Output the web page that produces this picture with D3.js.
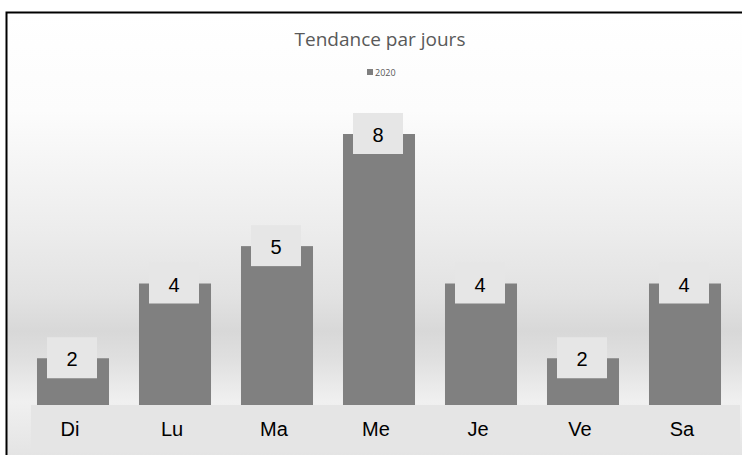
<!DOCTYPE html>
<html>
<head>
<meta charset="utf-8">
<script src="https://cdn.jsdelivr.net/npm/d3@7"></script>
<style>
  body { margin: 0; background: #fff; }
  svg { display: block; }
</style>
</head>
<body>
<svg width="742" height="455"></svg>
<script>
var days = ["Di", "Lu", "Ma", "Me", "Je", "Ve", "Sa"];
var values2020 = [2, 4, 5, 8, 4, 2, 4];
var seriesName = "2020";
var chartTitle = "Tendance par jours";

var svg = d3.select("svg"),
    width = +svg.attr("width"),
    height = +svg.attr("height");

// background gradient (white at top, grey floor)
var defs = svg.append("defs");
var grad = defs.append("linearGradient")
               .attr("id", "bg")
               .attr("x1", 0).attr("y1", 0).attr("x2", 0).attr("y2", 1);
grad.append("stop").attr("offset", "0%").attr("stop-color", "#ffffff");
grad.append("stop").attr("offset", "22%").attr("stop-color", "#fcfcfc");
grad.append("stop").attr("offset", "48%").attr("stop-color", "#ededed");
grad.append("stop").attr("offset", "64%").attr("stop-color", "#e2e2e2");
grad.append("stop").attr("offset", "72%").attr("stop-color", "#d8d8d8");
grad.append("stop").attr("offset", "78%").attr("stop-color", "#dfdfdf");
grad.append("stop").attr("offset", "88%").attr("stop-color", "#f0f0f0");
grad.append("stop").attr("offset", "100%").attr("stop-color", "#e4e4e4");

svg.append("rect")
   .attr("x", 7).attr("y", 13)
   .attr("width", width - 7).attr("height", height - 13)
   .attr("fill", "url(#bg)");

// frame (only top and left visible)
svg.append("path")
   .attr("d", "M6.5," + height + "V12.5H" + width)
   .attr("fill", "none")
   .attr("stroke", "#000")
   .attr("stroke-width", 2);

var x = d3.scaleBand()
          .domain(days)
          .range([22, 736])
          .paddingInner(0.294)
          .paddingOuter(0.147);

var y = d3.scaleLinear()
          .domain([0, 8])
          .range([433, 134]);

svg.append("text")
   .attr("x", 380).attr("y", 46)
   .attr("text-anchor", "middle")
   .attr("font-family", "'Open Sans', 'Noto Sans', sans-serif")
   .attr("font-size", 19)
   .attr("fill", "#595959")
   .text(chartTitle);

// legend
svg.append("rect")
   .attr("x", 367).attr("y", 69)
   .attr("width", 6).attr("height", 6)
   .attr("fill", "#7f7f7f");
svg.append("text")
   .attr("x", 375).attr("y", 75.5)
   .attr("font-family", "'Open Sans', 'Noto Sans', sans-serif")
   .attr("font-size", 9)
   .attr("fill", "#595959")
   .text(seriesName);

var bars = svg.append("g").selectAll("rect")
              .data(values2020)
              .enter().append("rect")
              .attr("x", function(d, i) { return x(days[i]); })
              .attr("y", function(d) { return y(d); })
              .attr("width", x.bandwidth())
              .attr("height", function(d) { return y(0) - y(d); })
              .attr("fill", "#808080");

// category band across the bottom
svg.append("rect")
   .attr("x", 31).attr("y", 405)
   .attr("width", 709).attr("height", 47)
   .attr("fill", "#e5e5e5");

var xAxis = svg.append("g")
               .attr("transform", "translate(0,405)")
               .call(d3.axisBottom(x).tickSize(0).tickPadding(0));
xAxis.select(".domain").remove();
xAxis.selectAll("text")
     .attr("dy", 0)
     .attr("y", 31)
     .attr("dx", -3)
     .attr("font-family", "'Liberation Sans', Arial, sans-serif")
     .attr("font-size", 20)
     .attr("fill", "#000");

// value labels in boxes
var labels = svg.append("g").selectAll("g")
                .data(values2020)
                .enter().append("g")
                .attr("transform", function(d, i) {
                    return "translate(" + (x(days[i]) + x.bandwidth() / 2 - 1) + "," + y(d) + ")";
                });
labels.append("rect")
      .attr("x", -25).attr("y", -21)
      .attr("width", 50).attr("height", 41)
      .attr("fill", "#e6e6e6");
labels.append("text")
      .attr("text-anchor", "middle")
      .attr("y", 8)
      .attr("font-family", "'Liberation Sans', Arial, sans-serif")
      .attr("font-size", 20)
      .attr("fill", "#000")
      .text(function(d) { return d; });
</script>
</body>
</html>
